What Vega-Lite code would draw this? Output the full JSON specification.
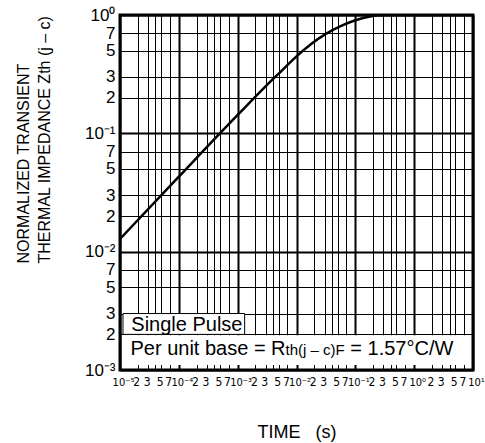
{
  "$schema": "https://vega.github.io/schema/vega-lite/v6.json",
  "width": 353,
  "height": 355,
  "autosize": {"type": "none"},
  "padding": {"left": 120, "top": 15, "right": 12, "bottom": 73},
  "config": {
    "view": {"stroke": "black", "strokeWidth": 3},
    "font": "Liberation Sans"
  },
  "layer": [
    {
      "data": {"values": [
        {"t": 1e-5, "z": 0.0128},
        {"t": 1e-4, "z": 0.043},
        {"t": 1e-3, "z": 0.143},
        {"t": 3.162e-3, "z": 0.257},
        {"t": 5.623e-3, "z": 0.339},
        {"t": 1e-2, "z": 0.447},
        {"t": 1.778e-2, "z": 0.569},
        {"t": 3.162e-2, "z": 0.692},
        {"t": 5.623e-2, "z": 0.804},
        {"t": 0.1, "z": 0.902},
        {"t": 0.1778, "z": 0.973},
        {"t": 0.3162, "z": 0.998},
        {"t": 1, "z": 1},
        {"t": 10, "z": 1}
      ]},
      "mark": {"type": "line", "color": "black", "strokeWidth": 2.5, "interpolate": "monotone", "clip": true},
      "encoding": {
        "x": {
          "field": "t", "type": "quantitative",
          "scale": {"type": "log", "domain": [1e-5, 10], "nice": false},
          "axis": {
            "values": [1e-5,2e-5,3e-5,4e-5,5e-5,7e-5,1e-4,2e-4,3e-4,4e-4,5e-4,7e-4,0.001,0.002,0.003,0.004,0.005,0.007,0.01,0.02,0.03,0.04,0.05,0.07,0.1,0.2,0.3,0.4,0.5,0.7,1,2,3,4,5,7,10],
            "labelExpr": "round(datum.value/pow(10,floor(log(datum.value)/LN10+1e-6)))==1 ? ['10⁻⁵','10⁻⁴','10⁻³','10⁻²','10⁻¹','10⁰','10¹'][floor(log(datum.value)/LN10+1e-6)+5] : (round(datum.value/pow(10,floor(log(datum.value)/LN10+1e-6)))==4 ? '' : format(round(datum.value/pow(10,floor(log(datum.value)/LN10+1e-6))),'d'))",
            "ticks": false,
            "domain": false,
            "grid": true,
            "gridColor": "black",
            "gridOpacity": 1,
            "gridWidth": {"condition": {"test": "abs(log(datum.value)/LN10 - round(log(datum.value)/LN10)) < 0.001", "value": 2}, "value": 1},
            "labelFont": "Liberation Sans Narrow, Arial Narrow, DejaVu Sans Condensed, Liberation Sans",
            "labelFontSize": {"condition": {"test": "abs(log(datum.value)/LN10 - round(log(datum.value)/LN10)) < 0.001", "value": 11}, "value": 12},
            "labelOffset": {"condition": {"test": "abs(log(datum.value)/LN10 - round(log(datum.value)/LN10)) < 0.001", "value": 3}, "value": -1.5},
            "labelColor": "black",
            "labelPadding": 6,
            "labelOverlap": false,
            "labelFlush": false,
            "title": "TIME\u00a0\u00a0\u00a0(s)",
            "titleFont": "Liberation Sans",
            "titleFontSize": 18,
            "titleFontWeight": "normal",
            "titleColor": "black",
            "titleBaseline": "alphabetic",
            "titleY": 67
          }
        },
        "y": {
          "field": "z", "type": "quantitative",
          "scale": {"type": "log", "domain": [0.001, 1], "nice": false},
          "axis": {
            "values": [0.001,0.002,0.003,0.005,0.007,0.01,0.02,0.03,0.05,0.07,0.1,0.2,0.3,0.5,0.7,1],
            "labelExpr": "round(datum.value/pow(10,floor(log(datum.value)/LN10+1e-6)))==1 ? ['10⁻³','10⁻²','10⁻¹','10⁰'][floor(log(datum.value)/LN10+1e-6)+3] : format(round(datum.value/pow(10,floor(log(datum.value)/LN10+1e-6))),'d')",
            "ticks": false,
            "domain": false,
            "grid": true,
            "gridColor": "black",
            "gridOpacity": 1,
            "gridWidth": {"condition": {"test": "abs(log(datum.value)/LN10 - round(log(datum.value)/LN10)) < 0.001", "value": 2}, "value": 1},
            "labelFontSize": 17,
            "labelColor": "black",
            "labelPadding": 5,
            "labelOverlap": false,
            "labelFlush": false,
            "title": ["NORMALIZED TRANSIENT", "THERMAL IMPEDANCE  Zth (j – c)"],
            "titleFontSize": 16,
            "titleFontWeight": "normal",
            "titleColor": "black",
            "titleAngle": -90,
            "titleAlign": "left",
            "titleBaseline": "middle",
            "titleLineHeight": 21,
            "titleX": -97,
            "titleY": 248
          }
        }
      }
    },
    {
      "data": {"values": [{"box": "Single Pulse"}]},
      "mark": {"type": "rect", "fill": "white", "stroke": "black", "strokeWidth": 1},
      "encoding": {
        "x": {"datum": 1.124e-5, "type": "quantitative"},
        "x2": {"datum": 1.315e-3},
        "y": {"datum": 0.002, "type": "quantitative"},
        "y2": {"datum": 0.003}
      }
    },
    {
      "data": {"values": [{"box": "Per unit base"}]},
      "mark": {"type": "rect", "fill": "white"},
      "encoding": {
        "x": {"datum": 1.124e-5, "type": "quantitative"},
        "x2": {"datum": 8.55},
        "y": {"datum": 0.0011, "type": "quantitative"},
        "y2": {"datum": 0.00197}
      }
    },
    {
      "data": {"values": [{"label": "Single Pulse"}]},
      "mark": {"type": "text", "align": "left", "baseline": "alphabetic", "fontSize": 20, "color": "black"},
      "encoding": {
        "x": {"datum": 1.556e-5, "type": "quantitative"},
        "y": {"datum": 0.00212, "type": "quantitative"},
        "text": {"field": "label"}
      }
    },
    {
      "data": {"values": [{"label": "Per unit base = R"}]},
      "mark": {"type": "text", "align": "right", "baseline": "alphabetic", "fontSize": 20, "color": "black"},
      "encoding": {
        "x": {"datum": 0.00652, "type": "quantitative"},
        "y": {"datum": 0.001346, "type": "quantitative"},
        "text": {"field": "label"}
      }
    },
    {
      "data": {"values": [{"label": "th(j – c)F"}]},
      "mark": {"type": "text", "align": "left", "baseline": "alphabetic", "fontSize": 15, "color": "black"},
      "encoding": {
        "x": {"datum": 0.00652, "type": "quantitative"},
        "y": {"datum": 0.001346, "type": "quantitative"},
        "text": {"field": "label"}
      }
    },
    {
      "data": {"values": [{"label": "= 1.57°C/W"}]},
      "mark": {"type": "text", "align": "left", "baseline": "alphabetic", "fontSize": 20, "color": "black"},
      "encoding": {
        "x": {"datum": 0.0822, "type": "quantitative"},
        "y": {"datum": 0.001346, "type": "quantitative"},
        "text": {"field": "label"}
      }
    }
  ]
}
